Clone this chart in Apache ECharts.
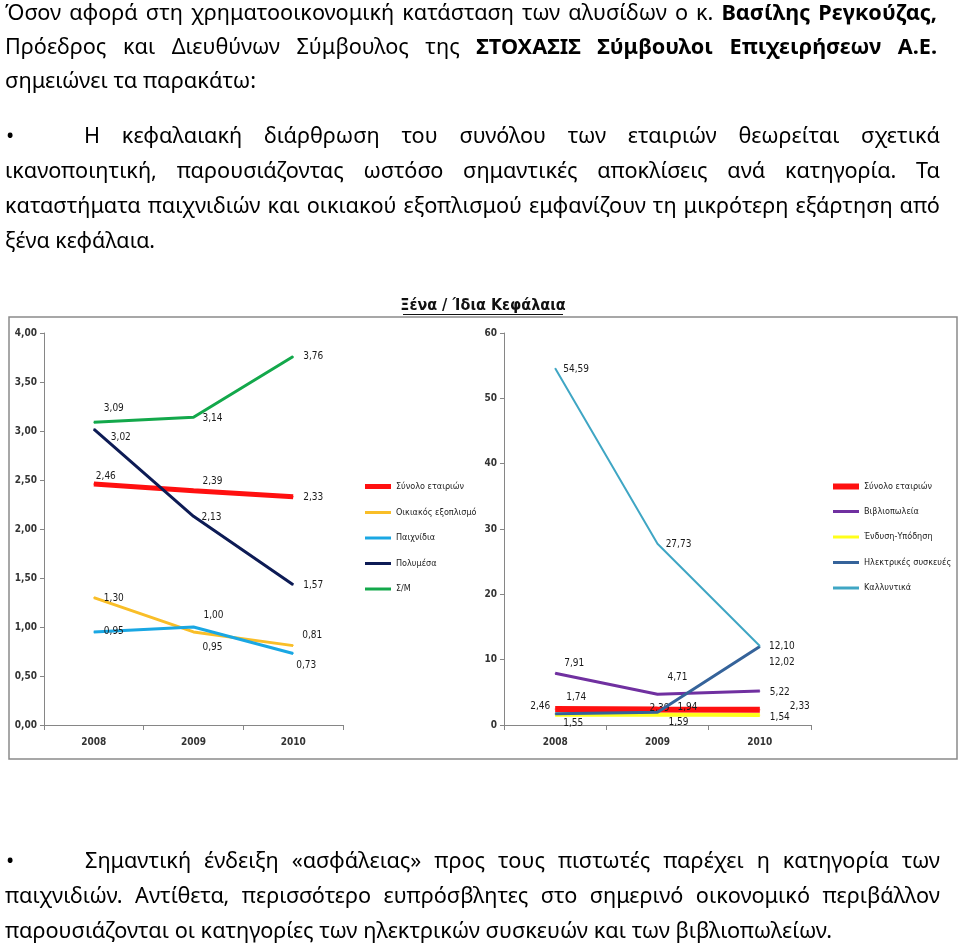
<!DOCTYPE html>
<html>
<head>
<meta charset="utf-8">
<script src="https://cdn.jsdelivr.net/npm/echarts@6/dist/echarts.min.js"></script>
<style>
  html, body { margin:0; padding:0; background:#fff; }
  #chart { position:absolute; left:0; top:0; width:960px; height:947px; }
  #doc { position:absolute; left:0; top:0; width:960px; height:947px; pointer-events:none; }
  .ln { position:absolute; white-space:nowrap; font-family:'Noto Sans','Open Sans',sans-serif; font-size:22px; line-height:1; color:#000; transform-origin:0 0; }
  .ln b { font-weight:700; }
</style>
</head>
<body>
<div id="chart"></div>
<div id="doc"></div>
<script>
// ---------------- DATA ----------------
const years = ['2008', '2009', '2010'];

// Left panel (scale 0 - 4)
const leftTotal      = [2.46, 2.39, 2.33];   // Σύνολο εταιριών
const homeEquipment  = [1.30, 0.95, 0.81];   // Οικιακός εξοπλισμός
const toys           = [0.95, 1.00, 0.73];   // Παιχνίδια
const multimedia     = [3.02, 2.13, 1.43];   // Πολυμέσα (plotted position)
const multimediaText = ['3,02', '2,13', '1,57']; // printed labels
const supermarkets   = [3.09, 3.14, 3.76];   // Σ/Μ

// Right panel (scale 0 - 60)
const rightTotal  = [2.46, 2.39, 2.33];      // Σύνολο εταιριών
const bookstores  = [7.91, 4.71, 5.22];      // Βιβλιοπωλεία
const clothing    = [1.55, 1.59, 1.54];      // Ένδυση-Υπόδηση
const electrical  = [1.74, 1.94, 12.02];     // Ηλεκτρικές συσκευές
const cosmetics   = [54.59, 27.73, 12.10];   // Καλλυντικά

const leftAxis  = { min: 0, max: 4, interval: 0.5 };
const rightAxis = { min: 0, max: 60, interval: 10 };

// ---------------- STYLE ----------------
const LBL_FONT = "'DejaVu Sans Condensed','Liberation Sans Narrow','DejaVu Sans',sans-serif";
const comma = (v, d) => v.toFixed(d).replace('.', ',');

// label offsets (px) relative to each point
const offs = {
  lTotal: [[12,-8],[19,-9],[20,1]],
  lHome:  [[20,1],[19,16],[19,-10]],
  lToys:  [[20,0],[20,-12],[13,12]],
  lMulti: [[27,8],[18,1],[20,1]],
  lSM:    [[20,-14],[19,1],[20,0]],
  rTotal: [[-15,-3],[2,-1],[40,-3]],
  rBook:  [[19,-10],[20,-17],[20,2]],
  rCloth: [[18,9],[21,8],[20,2]],
  rElec:  [[21,-16],[30,-5],[22,16]],
  rCosm:  [[21,1],[21,1],[22,0]]
};

function mkData(vals, off, texts) {
  return vals.map((v, i) => ({
    value: v,
    label: {
      show: true, position: 'inside', offset: off[i],
      formatter: texts ? texts[i] : comma(v, 2),
      fontFamily: LBL_FONT, fontSize: 10, color: '#1a1a1a'
    }
  }));
}

function mkSeries(name, vals, off, color, width, xi, z, texts) {
  return {
    type: 'line', name, xAxisIndex: xi, yAxisIndex: xi,
    data: mkData(vals, off, texts),
    symbol: 'circle', symbolSize: 1, z,
    itemStyle: { color }, lineStyle: { color, width },
    emphasis: { disabled: true }, animation: false
  };
}

const axisGray = '#868686';
function xAx(idx) {
  return {
    type: 'category', gridIndex: idx, data: years, boundaryGap: true,
    axisLine: { lineStyle: { color: axisGray, width: 1 } },
    axisTick: { show: true, length: 5, lineStyle: { color: axisGray } },
    axisLabel: { margin: 12, fontFamily: LBL_FONT, fontSize: 10, fontWeight: 'bold', color: '#333' },
    splitLine: { show: false }
  };
}
function yAx(idx, cfg, dec) {
  return {
    type: 'value', gridIndex: idx, min: cfg.min, max: cfg.max, interval: cfg.interval,
    axisLine: { show: true, lineStyle: { color: axisGray, width: 1 } },
    axisTick: { show: true, length: 4, lineStyle: { color: axisGray } },
    axisLabel: { margin: 7, fontFamily: LBL_FONT, fontSize: 10, fontWeight: 'bold', color: '#333',
      formatter: v => comma(v, dec) },
    splitLine: { show: false }
  };
}

const legText = { fontFamily: LBL_FONT, fontSize: 9, color: '#222' };

const option = {
  backgroundColor: '#fff',
  animation: false,
  grid: [
    { left: 44, top: 333, width: 299, height: 392 },
    { left: 504, top: 333, width: 307, height: 392 }
  ],
  xAxis: [xAx(0), xAx(1)],
  yAxis: [yAx(0, leftAxis, 2), yAx(1, rightAxis, 0)],
  legend: [
    { data: ['Σύνολο εταιριών'], orient: 'vertical', left: 360, top: 477, icon: 'rect',
      itemWidth: 26, itemHeight: 5, textStyle: legText, selectedMode: false },
    { data: ['Οικιακός εξοπλισμός', 'Παιχνίδια', 'Πολυμέσα', 'Σ/Μ'], orient: 'vertical', left: 360, top: 503,
      icon: 'rect', itemWidth: 26, itemHeight: 3, itemGap: 16.5, textStyle: legText, selectedMode: false,
      formatter: n => n === 'Οικιακός εξοπλισμός' ? 'Οικιακός εξοπλισμό' : n },
    { data: ['Σύνολο εταιριών'], orient: 'vertical', left: 828, top: 477, icon: 'rect',
      itemWidth: 26, itemHeight: 6, textStyle: legText, selectedMode: false },
    { data: ['Βιβλιοπωλεία', 'Ένδυση-Υπόδηση', 'Ηλεκτρικές συσκευές', 'Καλλυντικά'], orient: 'vertical', left: 828, top: 502,
      icon: 'rect', itemWidth: 26, itemHeight: 3, itemGap: 16.5, textStyle: legText, selectedMode: false }
  ],
  series: [
    mkSeries('Οικιακός εξοπλισμός', homeEquipment, offs.lHome, '#F9BE28', 3, 0, 2),
    mkSeries('Παιχνίδια', toys, offs.lToys, '#1AA7E3', 3, 0, 3),
    mkSeries('Σύνολο εταιριών', leftTotal, offs.lTotal, '#FF1010', 5, 0, 4),
    mkSeries('Πολυμέσα', multimedia, offs.lMulti, '#0D1B55', 3, 0, 5, multimediaText),
    mkSeries('Σ/Μ', supermarkets, offs.lSM, '#13A84B', 3, 0, 5),

    mkSeries('Ένδυση-Υπόδηση', clothing, offs.rCloth, '#FFFF1A', 4, 1, 2),
    mkSeries('Σύνολο εταιριών', rightTotal, offs.rTotal, '#FF1010', 6, 1, 3),
    mkSeries('Βιβλιοπωλεία', bookstores, offs.rBook, '#7030A0', 3, 1, 4),
    mkSeries('Ηλεκτρικές συσκευές', electrical, offs.rElec, '#35639A', 3, 1, 5),
    mkSeries('Καλλυντικά', cosmetics, offs.rCosm, '#3FA6C4', 2, 1, 6)
  ],
  graphic: [
    { type: 'rect', shape: { x: 9, y: 317, width: 948, height: 442 },
      style: { fill: 'none', stroke: '#8a8a8a', lineWidth: 1.5 }, silent: true, z: -1 },
    { type: 'text', x: 483, y: 306,
      style: { text: 'Ξένα / Ίδια Κεφάλαια', x: 0, y: 0, align: 'center', verticalAlign: 'middle',
        font: "600 16px 'DejaVu Sans Condensed','Open Sans',sans-serif", fill: '#111' }, silent: true },
    { type: 'line', shape: { x1: 403, y1: 314.5, x2: 563, y2: 314.5 },
      style: { stroke: '#111', lineWidth: 1 }, silent: true }
  ]
};

const chart = echarts.init(document.getElementById('chart'), null, { renderer: 'canvas' });
chart.setOption(option);

// ---------------- DOCUMENT TEXT ----------------
const textLines = [
  { base: 20,  x0: 5,  x1: 937, just: true,  parts: [['Όσον αφορά στη χρηματοοικονομική κατάσταση των αλυσίδων ο κ. ', 0], ['Βασίλης Ρεγκούζας,', 1]] },
  { base: 54,  x0: 5,  x1: 937, just: true,  parts: [['Πρόεδρος και Διευθύνων Σύμβουλος της ', 0], ['ΣΤΟΧΑΣΙΣ Σύμβουλοι Επιχειρήσεων Α.Ε.', 1]] },
  { base: 88,  x0: 5,  x1: 256, just: false, parts: [['σημειώνει τα παρακάτω:', 0]] },
  { base: 143, x0: 84, x1: 940, just: true,  parts: [['Η κεφαλαιακή διάρθρωση του συνόλου των εταιριών θεωρείται σχετικά', 0]] },
  { base: 178, x0: 5,  x1: 940, just: true,  parts: [['ικανοποιητική, παρουσιάζοντας ωστόσο σημαντικές αποκλίσεις ανά κατηγορία. Τα', 0]] },
  { base: 213, x0: 5,  x1: 940, just: true,  parts: [['καταστήματα παιχνιδιών και οικιακού εξοπλισμού εμφανίζουν τη μικρότερη εξάρτηση από', 0]] },
  { base: 248, x0: 5,  x1: 155, just: false, parts: [['ξένα κεφάλαια.', 0]] },
  { base: 868, x0: 85, x1: 940, just: true,  parts: [['Σημαντική ένδειξη «ασφάλειας» προς τους πιστωτές παρέχει η κατηγορία των', 0]] },
  { base: 903, x0: 5,  x1: 940, just: true,  parts: [['παιχνιδιών. Αντίθετα, περισσότερο ευπρόσβλητες στο σημερινό οικονομικό περιβάλλον', 0]] },
  { base: 938, x0: 5,  x1: 832, just: false, parts: [['παρουσιάζονται οι κατηγορίες των ηλεκτρικών συσκευών και των βιβλιοπωλείων.', 0]] }
];
const bullets = [{ base: 143, x0: 6 }, { base: 868, x0: 6 }];

const doc = document.getElementById('doc');
function makeLine(x0, base, html) {
  const d = document.createElement('div');
  d.className = 'ln';
  d.innerHTML = html + '<span class="bm" style="display:inline-block;width:0;height:0;vertical-align:baseline"></span>';
  d.style.left = x0 + 'px';
  d.style.top = '0px';
  doc.appendChild(d);
  const bo = d.querySelector('.bm').offsetTop;
  d.style.top = (base - bo) + 'px';
  return d;
}
const esc = s => s.replace(/&/g, '&amp;').replace(/</g, '&lt;');
const els = textLines.map(l => {
  const html = l.parts.map(p => p[1] ? '<b>' + esc(p[0]) + '</b>' : esc(p[0])).join('');
  const d = makeLine(l.x0, l.base, html);
  return { l, d, w0: d.getBoundingClientRect().width };
});
// global horizontal scale from the non-justified lines
let tw = 0, nw = 0;
els.forEach(e => { if (!e.l.just) { tw += e.l.x1 - e.l.x0; nw += e.w0; } });
const S = tw / nw;
els.forEach(e => {
  const target = e.l.x1 - e.l.x0;
  if (e.l.just) {
    const text = e.l.parts.map(p => p[0]).join('');
    const gaps = (text.trim().match(/ /g) || []).length;
    const ws = (target / S - e.w0) / gaps;
    e.d.style.wordSpacing = ws + 'px';
    e.d.style.transform = 'scaleX(' + S + ')';
  } else {
    e.d.style.transform = 'scaleX(' + (target / e.w0) + ')';
  }
});
bullets.forEach(b => makeLine(b.x0, b.base, '•'));
</script>
</body>
</html>
